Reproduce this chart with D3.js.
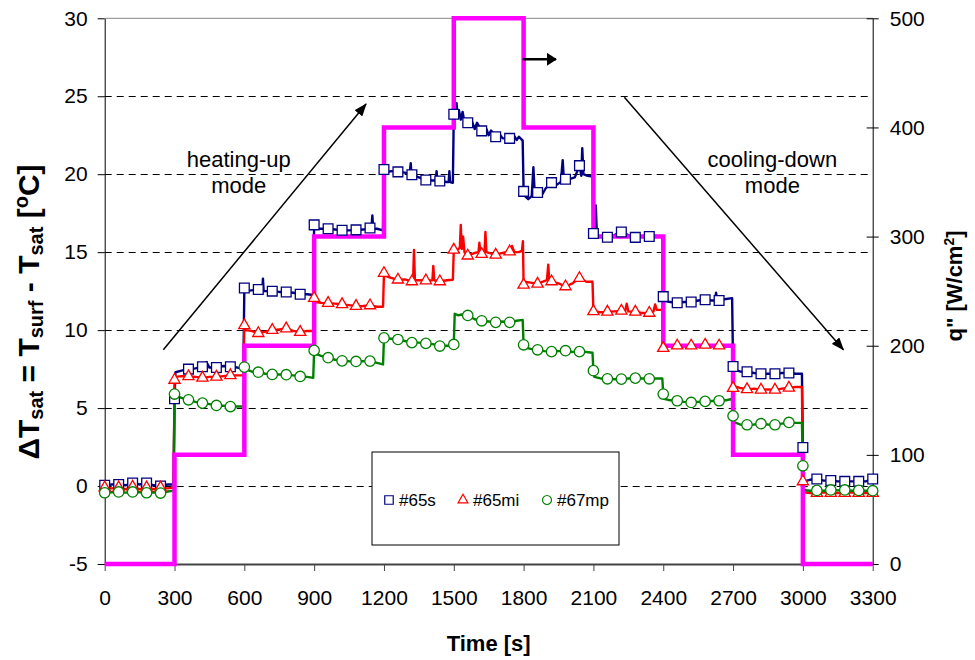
<!DOCTYPE html>
<html>
<head>
<meta charset="utf-8">
<script src="https://cdn.jsdelivr.net/npm/d3@7"></script>
<style>
    body { margin: 0; background: #fff; }
    svg { display: block; font-family: Arial, 'Liberation Sans', sans-serif; }
</style>
</head>
<body>
<div id="chart"></div>
<script>
// Axis ticks
const timeTicks = [0, 300, 600, 900, 1200, 1500, 1800, 2100, 2400, 2700, 3000, 3300];
const dtTicks = [-5, 0, 5, 10, 15, 20, 25, 30];
const fluxTicks = [0, 100, 200, 300, 400, 500];

// Heat flux steps q'' [W/cm2] (right axis)
const stepTimes = [0, 300, 600, 900, 1200, 1500, 1800, 2100, 2400, 2700, 3000, 3300];
const heatFlux  = [0, 100, 200, 300, 400, 500, 400, 300, 200, 100, 0, 0];

// Wall superheat [time s, dT degC], markers every 60 s
const s65s = [
    [0, 0.05], [30, 0.1], [60, 0.1], [90, 0.05], [120, 0.2], [150, 0.1], [180, 0.2], [210, 0.05], [240, 0.0], [270, 0.1], [296, 0.1],
    [300, 5.6], [304, 7.3], [330, 7.4], [360, 7.5], [390, 7.55], [420, 7.65], [437, 7.95], [450, 7.6], [480, 7.6], [510, 7.7], [540, 7.65], [570, 7.6], [596, 7.5],
    [600, 12.7], [604, 12.5], [630, 12.55], [660, 12.6], [677, 12.5], [680, 13.3], [683, 12.5], [690, 12.5], [720, 12.5], [750, 12.45], [780, 12.45], [810, 12.4], [840, 12.3], [870, 12.3], [896, 12.25],
    [900, 16.75], [904, 16.5], [930, 16.5], [960, 16.5], [990, 16.45], [1020, 16.4], [1050, 16.4], [1080, 16.43], [1110, 16.45], [1140, 16.55], [1146, 16.5], [1150, 17.35], [1154, 16.5], [1170, 16.5], [1196, 16.4],
    [1200, 20.3], [1204, 20.1], [1230, 20.2], [1260, 20.15], [1290, 20.1], [1310, 20.0], [1315, 20.7], [1318, 20.0], [1320, 19.96], [1350, 19.8], [1380, 19.63], [1410, 19.6], [1423, 19.6], [1426, 20.2], [1429, 19.6], [1440, 19.57], [1470, 19.5], [1478, 19.5], [1481, 20.2], [1484, 19.5], [1496, 19.45],
    [1500, 23.85], [1504, 23.9], [1512, 24.55], [1516, 23.7], [1522, 24.1], [1530, 23.5], [1538, 24.0], [1545, 23.4], [1560, 23.3], [1575, 23.5], [1590, 22.9], [1600, 23.3], [1620, 22.78], [1640, 22.9], [1650, 22.5], [1660, 22.8], [1680, 22.4], [1700, 22.5], [1710, 22.3], [1740, 22.3], [1760, 22.45], [1770, 22.2], [1780, 22.4], [1796, 22.15],
    [1800, 18.9], [1806, 18.6], [1820, 18.4], [1835, 18.6], [1842, 20.45], [1848, 18.7], [1860, 18.83], [1880, 18.7], [1895, 19.1], [1920, 19.46], [1940, 19.3], [1960, 19.5], [1968, 20.9], [1973, 19.6], [1980, 19.68], [2000, 19.7], [2020, 19.8], [2040, 20.55], [2048, 19.9], [2052, 21.67], [2057, 20.0], [2075, 19.9], [2096, 19.85],
    [2100, 16.2], [2106, 16.1], [2110, 18.0], [2115, 16.1], [2130, 16.0], [2160, 15.96], [2190, 16.1], [2220, 16.3], [2250, 16.1], [2280, 15.95], [2310, 16.0], [2340, 16.0], [2370, 16.05], [2396, 15.95],
    [2400, 12.15], [2404, 11.9], [2430, 11.8], [2460, 11.75], [2490, 11.8], [2520, 11.8], [2550, 11.9], [2580, 11.95], [2610, 11.9], [2622, 11.9], [2627, 12.4], [2632, 11.9], [2640, 11.9], [2670, 12.0], [2696, 12.05],
    [2700, 7.67], [2704, 7.45], [2730, 7.35], [2760, 7.33], [2790, 7.25], [2820, 7.2], [2850, 7.2], [2880, 7.2], [2910, 7.25], [2940, 7.25], [2970, 7.2], [2996, 7.2],
    [3000, 2.47], [3004, 0.3], [3030, 0.4], [3060, 0.45], [3090, 0.35], [3120, 0.35], [3150, 0.3], [3180, 0.3], [3210, 0.3], [3240, 0.3], [3270, 0.3], [3300, 0.45]
];

const s65mi = [
    [0, -0.1], [30, -0.15], [60, -0.1], [90, -0.2], [120, -0.05], [150, -0.2], [180, -0.1], [210, -0.2], [240, -0.1], [270, -0.15], [296, -0.1],
    [300, 6.8], [304, 7.0], [330, 7.05], [360, 7.03], [390, 7.0], [420, 6.94], [450, 7.0], [480, 7.0], [510, 7.05], [540, 7.1], [570, 7.1], [596, 7.1],
    [600, 10.3], [604, 10.0], [630, 9.95], [660, 9.8], [690, 9.9], [720, 10.0], [750, 10.05], [780, 10.1], [810, 9.95], [840, 9.87], [870, 9.95], [896, 9.94],
    [900, 12.05], [904, 11.8], [930, 11.75], [960, 11.73], [990, 11.7], [1020, 11.65], [1050, 11.6], [1080, 11.54], [1110, 11.55], [1140, 11.58], [1170, 11.5], [1196, 11.5],
    [1200, 13.65], [1204, 13.5], [1230, 13.35], [1260, 13.23], [1290, 13.25], [1320, 13.12], [1325, 13.2], [1329, 15.15], [1333, 13.2], [1350, 13.2], [1380, 13.18], [1408, 13.2], [1412, 14.12], [1416, 13.2], [1440, 13.12], [1470, 13.2], [1496, 13.23],
    [1500, 15.15], [1504, 15.1], [1520, 15.2], [1526, 15.3], [1530, 16.75], [1534, 15.2], [1540, 16.0], [1546, 15.0], [1560, 14.77], [1590, 14.95], [1606, 15.0], [1610, 15.6], [1614, 15.0], [1620, 14.87], [1632, 15.0], [1636, 16.3], [1640, 15.0], [1680, 14.83], [1710, 14.95], [1740, 15.04], [1750, 15.4], [1760, 15.0], [1780, 15.0], [1793, 15.1], [1797, 15.7],
    [1800, 12.9], [1804, 13.1], [1830, 13.05], [1860, 12.97], [1880, 13.1], [1900, 13.2], [1906, 14.2], [1910, 13.2], [1920, 13.12], [1950, 13.0], [1980, 12.8], [2010, 13.0], [2040, 13.33], [2070, 13.1], [2096, 13.1],
    [2100, 11.2], [2104, 11.2], [2130, 11.15], [2160, 11.17], [2190, 11.2], [2220, 11.23], [2236, 11.2], [2243, 11.7], [2250, 11.2], [2280, 11.17], [2310, 11.1], [2340, 11.1], [2358, 11.2], [2365, 11.65], [2372, 11.3], [2396, 11.3],
    [2400, 8.85], [2404, 9.0], [2430, 9.0], [2460, 9.0], [2490, 9.0], [2520, 9.0], [2550, 9.05], [2580, 9.05], [2610, 9.0], [2640, 9.0], [2670, 9.0], [2696, 9.05],
    [2700, 6.28], [2704, 6.4], [2730, 6.3], [2760, 6.2], [2790, 6.25], [2820, 6.17], [2850, 6.2], [2880, 6.17], [2910, 6.25], [2940, 6.3], [2970, 6.35], [2996, 6.35],
    [3000, 0.29], [3004, -0.4], [3030, -0.45], [3060, -0.45], [3090, -0.4], [3120, -0.45], [3150, -0.45], [3180, -0.45], [3210, -0.4], [3240, -0.45], [3270, -0.45], [3300, -0.45]
];

const s67mp = [
    [0, -0.43], [30, -0.4], [60, -0.38], [90, -0.42], [120, -0.38], [150, -0.4], [180, -0.43], [210, -0.4], [240, -0.45], [270, -0.35], [296, -0.3],
    [300, 5.9], [304, 5.8], [330, 5.65], [360, 5.53], [390, 5.4], [420, 5.32], [450, 5.25], [480, 5.17], [510, 5.15], [540, 5.1], [570, 5.1], [596, 5.1],
    [600, 7.63], [604, 7.5], [630, 7.35], [660, 7.3], [690, 7.2], [720, 7.16], [750, 7.15], [780, 7.14], [810, 7.1], [840, 7.03], [870, 7.0], [896, 6.94],
    [900, 8.7], [904, 8.5], [930, 8.35], [960, 8.23], [990, 8.1], [1020, 8.03], [1050, 8.0], [1080, 7.99], [1110, 8.0], [1140, 8.01], [1170, 7.9], [1196, 7.8],
    [1200, 9.5], [1204, 9.5], [1230, 9.45], [1260, 9.4], [1290, 9.3], [1320, 9.2], [1350, 9.2], [1380, 9.15], [1410, 9.1], [1440, 8.98], [1470, 9.0], [1496, 9.0],
    [1500, 9.08], [1504, 11.05], [1520, 10.95], [1530, 11.0], [1560, 10.94], [1590, 10.7], [1620, 10.6], [1650, 10.55], [1680, 10.5], [1710, 10.55], [1740, 10.5], [1770, 10.6], [1796, 10.66],
    [1800, 9.06], [1804, 8.9], [1830, 8.8], [1860, 8.74], [1890, 8.65], [1920, 8.62], [1950, 8.65], [1980, 8.68], [2010, 8.6], [2040, 8.62], [2070, 8.6], [2096, 8.55],
    [2100, 7.4], [2104, 7.0], [2130, 6.9], [2160, 6.88], [2190, 6.85], [2220, 6.86], [2250, 6.9], [2280, 6.92], [2310, 6.9], [2340, 6.88], [2370, 6.9], [2396, 6.9],
    [2400, 5.9], [2404, 5.6], [2430, 5.5], [2460, 5.47], [2490, 5.4], [2520, 5.36], [2550, 5.4], [2580, 5.43], [2610, 5.45], [2640, 5.47], [2670, 5.5], [2696, 5.6],
    [2700, 4.5], [2704, 4.1], [2730, 3.95], [2760, 3.93], [2790, 3.95], [2820, 4.0], [2850, 3.95], [2880, 3.93], [2910, 4.0], [2940, 4.08], [2970, 4.05], [2996, 4.05],
    [3000, 1.3], [3004, -0.25], [3030, -0.3], [3060, -0.28], [3090, -0.3], [3120, -0.25], [3150, -0.28], [3180, -0.25], [3210, -0.3], [3240, -0.28], [3270, -0.3], [3300, -0.3]
];

const seriesNames = ['#65s', '#65mi', '#67mp'];
const seriesColors = ['#000080', '#FF0000', '#008000'];

function drawChart() {
    const width = 975, height = 660;
    const plot = { left: 104.7, right: 872.7, top: 18.3, bottom: 564 };
    const plain = d => String(d);   // no thousands separator, ASCII minus

    const svg = d3.select('#chart')
        .append('svg')
        .attr('width', width)
        .attr('height', height);

    // Create scales
    const x = d3.scaleLinear().domain([0, 3300]).range([plot.left, plot.right]);
    const yL = d3.scaleLinear().domain([-5, 30]).range([plot.bottom, plot.top]);
    const yR = d3.scaleLinear().domain([0, 500]).range([plot.bottom, plot.top]);

    // Dashed grid lines
    svg.append('g')
        .selectAll('line')
        .data(dtTicks.filter(v => v > -5 && v < 30))
        .enter()
        .append('line')
        .attr('x1', plot.left).attr('x2', plot.right)
        .attr('y1', d => Math.round(yL(d)) + 0.5)
        .attr('y2', d => Math.round(yL(d)) + 0.5)
        .attr('stroke', '#000')
        .attr('stroke-width', 1)
        .attr('stroke-dasharray', '7,5');

    // Top border
    svg.append('line')
        .attr('x1', plot.left).attr('x2', plot.right)
        .attr('y1', plot.top).attr('y2', plot.top)
        .attr('stroke', '#888').attr('stroke-width', 1);

    // Axes
    const fontSize = '21px';
    const gx = svg.append('g')
        .attr('transform', `translate(0, ${plot.bottom})`)
        .call(d3.axisBottom(x).tickValues(timeTicks).tickFormat(plain).tickSize(7).tickSizeOuter(0).tickPadding(19));
    gx.select('.domain').attr('stroke', '#444').attr('stroke-width', 2);
    gx.selectAll('.tick line').attr('stroke', '#444');

    const gl = svg.append('g')
        .attr('transform', `translate(${plot.left}, 0)`)
        .call(d3.axisLeft(yL).tickValues(dtTicks).tickFormat(plain).tickSize(7).tickSizeOuter(0).tickPadding(10));
    gl.select('.domain').attr('stroke', '#000');

    const gr = svg.append('g')
        .attr('transform', `translate(${plot.right}, 0)`)
        .call(d3.axisRight(yR).tickValues(fluxTicks).tickFormat(plain).tickSize(6).tickSizeOuter(0).tickPadding(11));
    gr.selectAll('.tick line').attr('x1', -6);

    svg.selectAll('.tick text')
        .attr('font-size', fontSize)
        .attr('font-family', 'Arial, Liberation Sans, sans-serif')
        .attr('fill', '#000');

    // Series lines
    const line = d3.line()
        .x(d => x(d[0]))
        .y(d => yL(d[1]));

    const allSeries = [s65s, s65mi, s67mp];
    allSeries.forEach((data, i) => {
        svg.append('path')
            .datum(data)
            .attr('fill', 'none')
            .attr('stroke', seriesColors[i])
            .attr('stroke-width', 2.4)
            .attr('stroke-linejoin', 'round')
            .attr('d', line);
    });

    // Heat flux step line
    const fluxLine = d3.line()
        .x((d, i) => x(stepTimes[i]))
        .y(d => yR(d))
        .curve(d3.curveStepAfter);

    svg.append('path')
        .datum(heatFlux)
        .attr('fill', 'none')
        .attr('stroke', '#FF00FF')
        .attr('stroke-width', 4.5)
        .attr('d', fluxLine);

    // Markers every 60 s
    const symbols = [
        d3.symbol().type(d3.symbolSquare).size(95),
        d3.symbol().type(d3.symbolTriangle).size(55),
        d3.symbol().type(d3.symbolCircle).size(85)
    ];
    allSeries.forEach((data, i) => {
        svg.append('g')
            .selectAll('path')
            .data(data.filter(d => d[0] % 60 === 0))
            .enter()
            .append('path')
            .attr('transform', d => `translate(${x(d[0])}, ${yL(d[1])})`)
            .attr('d', symbols[i])
            .attr('fill', '#fff')
            .attr('stroke', seriesColors[i])
            .attr('stroke-width', 1.3);
    });

    // Arrow heads
    const defs = svg.append('defs');
    defs.append('marker')
        .attr('id', 'headBig')
        .attr('markerUnits', 'userSpaceOnUse')
        .attr('markerWidth', 13).attr('markerHeight', 10)
        .attr('refX', 12).attr('refY', 5)
        .attr('orient', 'auto')
        .append('path').attr('d', 'M0,0 L13,5 L0,10 Z').attr('fill', '#000');
    defs.append('marker')
        .attr('id', 'headSmall')
        .attr('markerUnits', 'userSpaceOnUse')
        .attr('markerWidth', 10).attr('markerHeight', 13)
        .attr('refX', 9).attr('refY', 6.5)
        .attr('orient', 'auto')
        .append('path').attr('d', 'M0,0 L10,6.5 L0,13 Z').attr('fill', '#000');

    // Annotations (data coordinates)
    const arrows = [
        { t0: 252, v0: 8.74, t1: 1123, v1: 24.5, w: 1.5, head: 'headBig' },
        { t0: 2233, v0: 24.94, t1: 3174, v1: 8.74, w: 1.5, head: 'headBig' },
        { t0: 1796, v0: 27.37, t1: 1939, v1: 27.37, w: 2.5, head: 'headSmall' }
    ];
    svg.append('g')
        .selectAll('line')
        .data(arrows)
        .enter()
        .append('line')
        .attr('x1', d => x(d.t0)).attr('y1', d => yL(d.v0))
        .attr('x2', d => x(d.t1)).attr('y2', d => yL(d.v1))
        .attr('stroke', '#000')
        .attr('stroke-width', d => d.w)
        .attr('marker-end', d => `url(#${d.head})`);

    const notes = [
        { t: 576, v: 20.49, text: 'heating-up' },
        { t: 576, v: 18.8, text: 'mode' },
        { t: 2869, v: 20.49, text: 'cooling-down' },
        { t: 2869, v: 18.8, text: 'mode' }
    ];
    svg.append('g')
        .selectAll('text')
        .data(notes)
        .enter()
        .append('text')
        .attr('x', d => x(d.t))
        .attr('y', d => yL(d.v))
        .attr('text-anchor', 'middle')
        .attr('font-size', '22px')
        .attr('fill', '#000')
        .text(d => d.text);

    // Legend
    const legend = svg.append('g').attr('transform', 'translate(372, 452)');
    legend.append('rect')
        .attr('width', 247).attr('height', 93)
        .attr('fill', '#fff')
        .attr('stroke', '#000')
        .attr('stroke-width', 1);
    const legendX = [17, 91, 175];
    const legendSymbols = [
        d3.symbol().type(d3.symbolSquare).size(72),
        d3.symbol().type(d3.symbolTriangle).size(42),
        d3.symbol().type(d3.symbolCircle).size(64)
    ];
    seriesNames.forEach((name, i) => {
        legend.append('path')
            .attr('transform', `translate(${legendX[i]}, 48)`)
            .attr('d', legendSymbols[i])
            .attr('fill', '#fff')
            .attr('stroke', seriesColors[i])
            .attr('stroke-width', 1.2);
        legend.append('text')
            .attr('x', legendX[i] + 10)
            .attr('y', 54)
            .attr('font-size', '17px')
            .attr('fill', '#000')
            .text(name);
    });

    // Axis titles
    svg.append('text')
        .attr('x', (plot.left + plot.right) / 2)
        .attr('y', 651)
        .attr('text-anchor', 'middle')
        .attr('font-size', '22px')
        .attr('font-weight', 'bold')
        .text('Time [s]');

    const leftTitle = svg.append('text')
        .attr('transform', 'translate(39, 312) rotate(-90)')
        .attr('text-anchor', 'middle')
        .attr('font-size', '30px')
        .attr('font-weight', 'bold');
    const leftParts = [
        ['\u0394T', 0], ['sat', 1], [' = T', 0], ['surf', 1], [' - T', 0], ['sat', 1], [' [', 0], ['o', 2], ['C]', 0]
    ];
    let shift = 0;
    leftParts.forEach(([txt, kind]) => {
        const target = kind === 1 ? 4 : kind === 2 ? -11 : 0;
        leftTitle.append('tspan')
            .attr('dy', target - shift)
            .attr('font-size', kind === 0 ? '30px' : '20px')
            .text(txt);
        shift = target;
    });

    const rightTitle = svg.append('text')
        .attr('transform', 'translate(962, 286) rotate(-90)')
        .attr('text-anchor', 'middle')
        .attr('font-size', '22px')
        .attr('font-weight', 'bold');
    rightTitle.append('tspan').text('q" [W/cm');
    rightTitle.append('tspan').attr('dy', -8).attr('font-size', '14px').text('2');
    rightTitle.append('tspan').attr('dy', 8).text(']');
}

drawChart();
</script>
</body>
</html>
